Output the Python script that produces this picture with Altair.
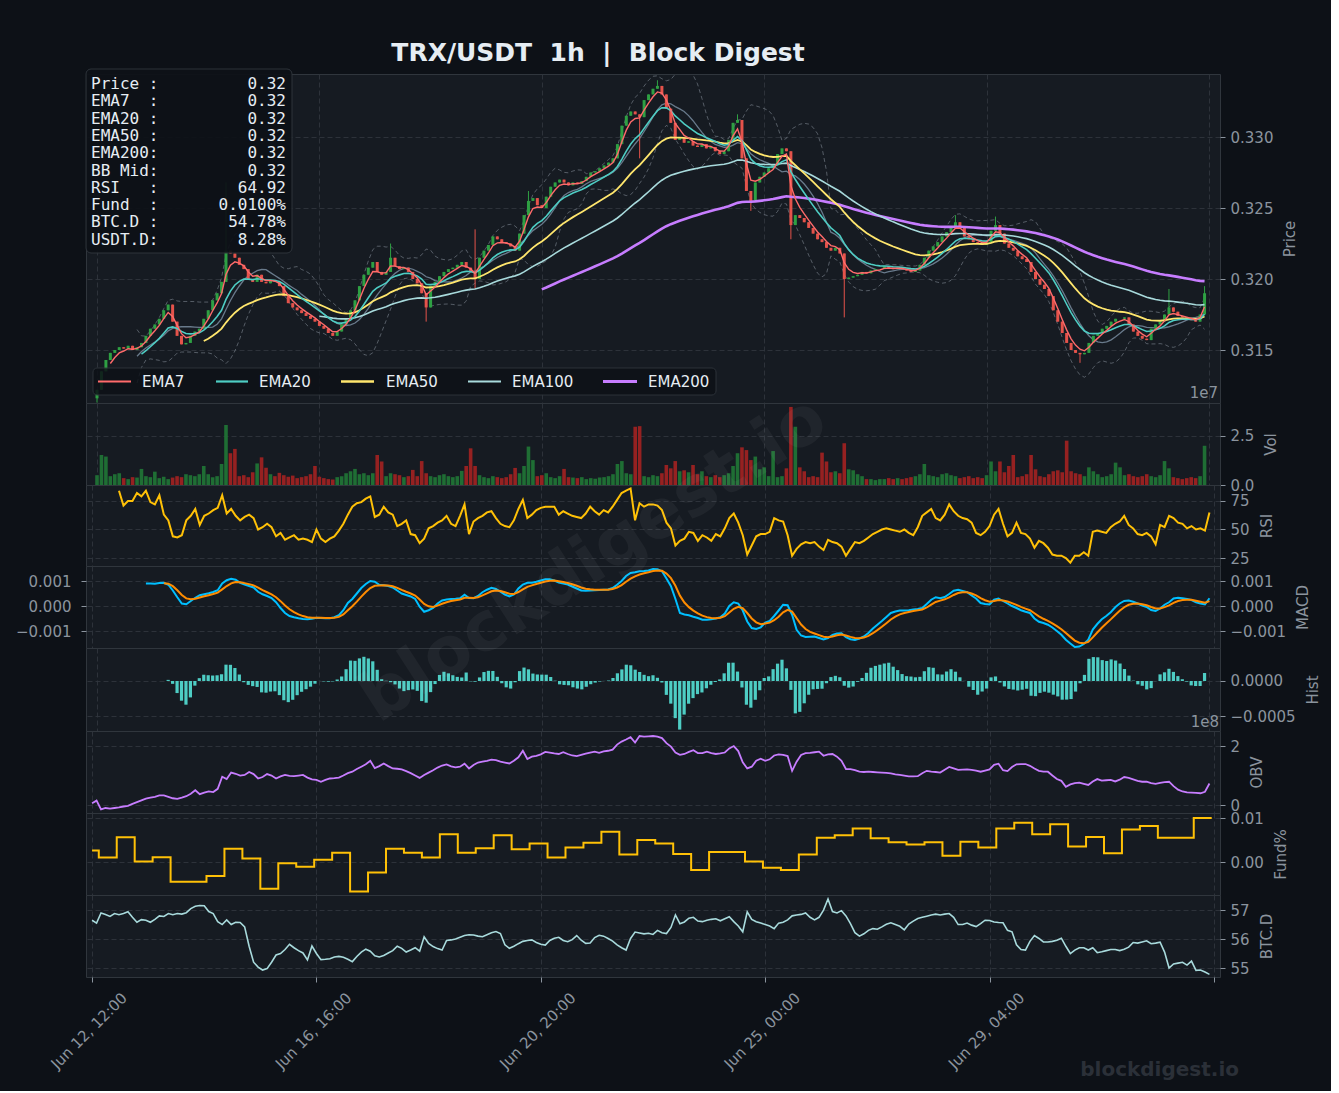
import altair as alt
import numpy as np
import pandas as pd

# ---------------- values (2-hour samples) ----------------
close = [
    0.3122, 0.3135, 0.3143, 0.3148, 0.3150, 0.3152, 0.3151, 0.3153, 0.3150, 0.3152,
    0.3155, 0.3160, 0.3165, 0.3168, 0.3172, 0.3178, 0.3182, 0.3170, 0.3160, 0.3154,
    0.3155, 0.3160, 0.3163, 0.3165, 0.3172, 0.3178, 0.3185, 0.3190, 0.3198, 0.3220,
    0.3218, 0.3215, 0.3210, 0.3207, 0.3200, 0.3198, 0.3203, 0.3198, 0.3197, 0.3199,
    0.3198, 0.3195, 0.3188, 0.3183, 0.3180, 0.3178, 0.3176, 0.3174, 0.3172, 0.3170,
    0.3167, 0.3165, 0.3162, 0.3160, 0.3163, 0.3168, 0.3172, 0.3178, 0.3185, 0.3195,
    0.3203, 0.3208, 0.3212, 0.3205, 0.3203, 0.3205, 0.3215, 0.3209, 0.3207, 0.3208,
    0.3205, 0.3200, 0.3197, 0.3190, 0.3180, 0.3195, 0.3198, 0.3202, 0.3205, 0.3207,
    0.3208, 0.3210, 0.3212, 0.3208, 0.3205, 0.3200, 0.3215, 0.3220, 0.3224, 0.3230,
    0.3228, 0.3226, 0.3225, 0.3223, 0.3220, 0.3232, 0.3245, 0.3255, 0.3257, 0.3252,
    0.3250, 0.3258, 0.3265, 0.3268, 0.3270, 0.3268, 0.3266, 0.3268, 0.3267, 0.3269,
    0.3272, 0.3275, 0.3276, 0.3278, 0.3280, 0.3282, 0.3285, 0.3295, 0.3308, 0.3315,
    0.3318, 0.3316, 0.3314, 0.3326, 0.3330, 0.3334, 0.3336, 0.3330, 0.3320, 0.3310,
    0.3298, 0.3300, 0.3296, 0.3297, 0.3294, 0.3293, 0.3295, 0.3292, 0.3293, 0.3290,
    0.3288, 0.3290, 0.3298, 0.3310, 0.3312, 0.3285, 0.3262, 0.3255, 0.3268, 0.3272,
    0.3275, 0.3278, 0.3280, 0.3288, 0.3292, 0.3290, 0.3238, 0.3245, 0.3243, 0.3240,
    0.3236, 0.3232, 0.3228, 0.3226, 0.3222, 0.3220, 0.3222, 0.3218, 0.3200, 0.3201,
    0.3202, 0.3203, 0.3205, 0.3204, 0.3206, 0.3207, 0.3207, 0.3209, 0.3208, 0.3207,
    0.3208, 0.3207, 0.3206, 0.3205, 0.3206, 0.3210, 0.3215, 0.3220, 0.3223, 0.3226,
    0.3230, 0.3233, 0.3237, 0.3240, 0.3236, 0.3230, 0.3228, 0.3226, 0.3225, 0.3224,
    0.3226, 0.3234, 0.3238, 0.3232, 0.3225, 0.3222, 0.3220, 0.3216, 0.3214, 0.3212,
    0.3205, 0.3200, 0.3196, 0.3193, 0.3188, 0.3178, 0.3170, 0.3162, 0.3155, 0.3150,
    0.3148, 0.3147, 0.3148, 0.3155, 0.3160, 0.3162, 0.3165, 0.3167, 0.3170, 0.3172,
    0.3172, 0.3173, 0.3168, 0.3163, 0.3160, 0.3158, 0.3157, 0.3165, 0.3168, 0.3170,
    0.3175, 0.3180, 0.3177, 0.3174, 0.3173, 0.3172, 0.3171, 0.3170, 0.3175, 0.3190,
]
first_open = 0.3116
wick_high = {29: 0.3268, 66: 0.3225, 85: 0.3235, 97: 0.3262, 126: 0.3340, 144: 0.3316,
             193: 0.3245, 202: 0.3244, 241: 0.3193, 249: 0.3195}
wick_low = {0: 0.3113, 74: 0.3170, 85: 0.3193, 122: 0.3285, 147: 0.3248, 156: 0.3228,
            168: 0.3173, 221: 0.3141}

vol_1e7 = [
    0.50, 1.53, 1.45, 0.45, 0.55, 0.60, 0.35, 0.30, 0.40, 0.38,
    0.82, 0.45, 0.40, 0.68, 0.35, 0.42, 0.30, 0.38, 0.45, 0.40,
    0.55, 0.50, 0.45, 0.55, 0.97, 0.55, 0.40, 0.45, 1.07, 3.06,
    1.62, 1.84, 0.45, 0.50, 0.40, 0.65, 1.10, 1.41, 0.88, 0.55,
    0.45, 0.62, 0.50, 0.42, 0.48, 0.35, 0.40, 0.45, 0.55, 0.97,
    0.42, 0.35, 0.30, 0.28, 0.40, 0.45, 0.60, 0.70, 0.82, 0.55,
    0.60, 0.50, 0.60, 1.53, 1.20, 0.45, 0.60, 0.55, 0.50, 0.40,
    0.45, 0.77, 0.45, 1.22, 0.60, 0.45, 0.40, 0.50, 0.55, 0.45,
    0.40, 0.45, 0.72, 0.97, 1.87, 0.97, 0.50, 0.40, 0.35, 0.45,
    0.40, 0.35, 0.40, 0.55, 0.87, 0.60, 0.97, 1.96, 1.27, 0.45,
    0.50, 0.60, 0.40, 0.35, 0.45, 0.82, 0.40, 0.38, 0.35, 0.40,
    0.30, 0.35, 0.32, 0.38, 0.40, 0.45, 0.55, 1.07, 1.22, 0.60,
    0.55, 2.97, 3.00, 0.45, 0.40, 0.50, 0.45, 0.60, 1.02, 0.85,
    1.22, 0.70, 0.75, 0.65, 1.02, 0.55, 0.70, 0.45, 0.40, 0.50,
    0.40, 0.50, 0.60, 0.97, 1.62, 1.92, 1.78, 1.27, 1.45, 0.80,
    0.90, 0.45, 1.73, 0.40, 0.45, 0.85, 3.98, 2.97, 0.90, 0.70,
    0.40, 0.45, 0.40, 1.65, 1.20, 0.65, 0.70, 0.60, 2.13, 0.80,
    0.75, 0.55, 0.45, 0.30, 0.30, 0.25, 0.30, 0.30, 0.35, 0.30,
    0.35, 0.30, 0.35, 0.40, 0.45, 0.55, 1.07, 0.50, 0.45, 0.40,
    0.55, 0.60, 0.50, 0.45, 0.35, 0.40, 0.45, 0.35, 0.40, 0.35,
    0.50, 1.20, 0.70, 1.20, 0.65, 0.97, 1.53, 0.40, 0.45, 0.55,
    1.53, 0.80, 0.45, 0.40, 0.55, 0.70, 0.75, 0.65, 2.26, 0.70,
    0.60, 0.55, 0.45, 0.90, 0.70, 0.55, 0.40, 0.45, 0.55, 1.14,
    0.90, 0.50, 0.55, 0.45, 0.40, 0.45, 0.55, 0.45, 0.40, 0.50,
    1.22, 0.85, 0.40, 0.35, 0.30, 0.35, 0.40, 0.35, 0.45, 2.00,
]

rsi = [
    None, None, None, None, None, None, 84, 71, 75, 75,
    82, 79, 84, 74, 72, 80, 63, 58, 44, 43,
    45, 58, 62, 68, 54, 62, 64, 67, 69, 80,
    64, 68, 62, 58, 61, 63, 60, 50, 52, 55,
    52, 44, 47, 41, 43, 45, 41, 42, 41, 39,
    50, 42, 39, 42, 44, 49, 55, 63, 70, 73,
    74, 77, 79, 61, 63, 70, 65, 63, 53, 55,
    58, 46, 45, 38, 42, 51, 53, 56, 58, 62,
    55, 53, 62, 72, 46, 57, 60, 62, 65, 66,
    60, 55, 53, 52, 58, 68, 76, 60, 63, 67,
    69, 70, 70, 70, 63, 66, 64, 62, 61, 60,
    64, 70, 66, 63, 67, 65, 70, 76, 82, 84,
    86, 58, 73, 70, 72, 72, 71, 67, 56, 51,
    36, 40, 42, 48, 47, 40, 45, 43, 40, 46,
    44, 51, 60, 64, 56, 45, 28, 36, 44, 46,
    46, 48, 60, 58, 57, 45, 27, 33, 37, 39,
    38, 39, 35, 32, 41, 39, 38, 35, 27, 33,
    39, 38, 40, 43, 46, 48, 50, 51, 50, 49,
    48, 50, 47, 45, 52, 62, 65, 68, 60, 58,
    63, 72, 66, 62, 60, 59, 56, 47, 45, 48,
    53, 63, 68, 55, 44, 47, 56, 47, 46, 42,
    34, 40, 38, 34, 28, 27, 27, 25, 21, 27,
    27, 30, 27, 48, 49, 48, 47, 52, 55, 57,
    62, 54, 51, 46, 45, 47, 44, 37, 54, 52,
    62, 60, 56, 55, 51, 53, 50, 51, 49, 64.92,
]

macd_milli = [
    None, None, None, None, None, None, None, None, None, None,
    None, None, 0.90, 0.90, 0.89, 0.92, 0.93, 0.85, 0.62, 0.35,
    0.10, 0.07, 0.20, 0.33, 0.43, 0.47, 0.51, 0.56, 0.63, 0.90,
    1.03, 1.09, 1.05, 0.93, 0.86, 0.80, 0.74, 0.57, 0.47, 0.40,
    0.32, 0.15, -0.08, -0.28, -0.40, -0.45, -0.49, -0.52, -0.53, -0.51,
    -0.47, -0.48, -0.49, -0.49, -0.45, -0.37, -0.17, 0.12, 0.28, 0.50,
    0.72, 0.88, 1.00, 0.97, 0.85, 0.83, 0.80, 0.74, 0.62, 0.50,
    0.44, 0.38, 0.28, -0.03, -0.23, -0.17, -0.08, 0.10, 0.22, 0.26,
    0.28, 0.29, 0.31, 0.45, 0.32, 0.31, 0.40, 0.55, 0.65, 0.73,
    0.68, 0.57, 0.46, 0.38, 0.46, 0.70, 0.86, 0.93, 0.93, 0.97,
    1.02, 1.07, 1.07, 1.02, 0.94, 0.90, 0.86, 0.78, 0.70, 0.62,
    0.61, 0.62, 0.63, 0.64, 0.65, 0.66, 0.72, 0.85, 1.00, 1.20,
    1.32, 1.35, 1.39, 1.40, 1.42, 1.48, 1.47, 1.39, 1.10, 0.79,
    0.28, -0.28, -0.34, -0.37, -0.43, -0.48, -0.55, -0.55, -0.53, -0.50,
    -0.45, -0.30, 0.00, 0.15, 0.10, -0.18, -0.62, -0.88, -0.92, -0.86,
    -0.66, -0.60, -0.40, -0.18, 0.05, 0.03, -0.35, -0.95, -1.18, -1.24,
    -1.23, -1.22, -1.28, -1.34, -1.28, -1.16, -1.10, -1.09, -1.25, -1.33,
    -1.36, -1.30, -1.22, -1.08, -0.90, -0.75, -0.60, -0.44, -0.28, -0.22,
    -0.18, -0.18, -0.17, -0.14, -0.12, -0.08, 0.08, 0.25, 0.35, 0.31,
    0.36, 0.48, 0.61, 0.65, 0.60, 0.55, 0.42, 0.30, 0.12, 0.08,
    0.06, 0.25, 0.30, 0.20, 0.10, 0.00, -0.08, -0.17, -0.23, -0.28,
    -0.50, -0.63, -0.68, -0.75, -0.86, -1.00, -1.15, -1.35, -1.50, -1.64,
    -1.62, -1.52, -1.35, -0.94, -0.72, -0.53, -0.40, -0.25, -0.05, 0.10,
    0.20, 0.22, 0.17, 0.10, 0.02, -0.04, -0.16, -0.20, -0.10, 0.05,
    0.15, 0.30, 0.33, 0.31, 0.28, 0.24, 0.15, 0.10, 0.06, 0.31,
]

obv_1e8 = [
    0.06, 0.15, -0.15, -0.10, -0.12, -0.10, -0.08, -0.05, -0.03, 0.04,
    0.10, 0.16, 0.22, 0.25, 0.28, 0.33, 0.33, 0.28, 0.23, 0.21,
    0.25, 0.30, 0.38, 0.50, 0.37, 0.42, 0.46, 0.44, 0.55, 0.96,
    0.88, 1.10, 1.06, 1.00, 1.02, 1.12, 1.05, 0.90, 0.95, 1.05,
    1.00, 0.90, 0.97, 1.02, 0.99, 0.98, 1.00, 1.02, 0.93, 0.87,
    0.85, 0.79, 0.85, 0.90, 0.91, 0.93, 1.00, 1.08, 1.13, 1.22,
    1.30, 1.38, 1.50, 1.25, 1.32, 1.41, 1.32, 1.24, 1.23, 1.21,
    1.15, 1.08, 1.00, 0.92, 1.02, 1.10, 1.18, 1.27, 1.34, 1.38,
    1.31, 1.28, 1.30, 1.40, 1.24, 1.36, 1.44, 1.47, 1.50, 1.54,
    1.52, 1.47, 1.44, 1.41, 1.50, 1.62, 1.84, 1.56, 1.64, 1.67,
    1.72, 1.80, 1.78, 1.75, 1.73, 1.79, 1.73, 1.68, 1.66, 1.70,
    1.74, 1.78, 1.81, 1.77, 1.82, 1.84, 1.88, 2.05, 2.15, 2.22,
    2.30, 2.12, 2.34, 2.32, 2.33, 2.34, 2.32, 2.27, 2.10, 1.98,
    1.78, 1.70, 1.73, 1.80, 1.86, 1.76, 1.76, 1.81, 1.76, 1.73,
    1.75, 1.78, 1.92, 2.00, 1.83, 1.45, 1.24, 1.30, 1.50, 1.57,
    1.50, 1.55, 1.68, 1.72, 1.70, 1.66, 1.16, 1.47, 1.70, 1.76,
    1.77, 1.79, 1.81, 1.67, 1.72, 1.73, 1.64, 1.50, 1.22, 1.22,
    1.18, 1.13, 1.12, 1.13, 1.12, 1.11, 1.10, 1.09, 1.07, 1.04,
    1.02, 1.00, 0.97, 0.97, 0.98, 1.08, 1.16, 1.13, 1.12, 1.10,
    1.20, 1.29, 1.24, 1.19, 1.20, 1.21, 1.19, 1.17, 1.13, 1.17,
    1.21, 1.36, 1.40, 1.18, 1.15, 1.29, 1.38, 1.39, 1.39, 1.33,
    1.24, 1.16, 1.13, 1.13, 1.00, 0.88, 0.82, 0.62, 0.70, 0.74,
    0.76, 0.72, 0.68, 0.80, 0.88, 0.83, 0.84, 0.85, 0.80, 0.86,
    0.95, 0.92, 0.87, 0.82, 0.79, 0.79, 0.74, 0.72, 0.75, 0.78,
    0.79, 0.64, 0.52, 0.46, 0.43, 0.42, 0.41, 0.40, 0.45, 0.73,
]

btc_d = [
    56.65, 56.55, 56.90, 56.85, 56.78, 56.88, 56.84, 56.88, 56.94, 56.75,
    56.58, 56.67, 56.65, 56.58, 56.68, 56.80, 56.78, 56.88, 56.84, 56.88,
    56.86, 56.91, 57.05, 57.13, 57.16, 57.15, 56.95, 56.88, 56.60, 56.50,
    56.66, 56.50, 56.58, 56.57, 56.42, 55.75, 55.20, 55.03, 54.93, 54.98,
    55.20, 55.45, 55.50, 55.64, 55.82, 55.70, 55.60, 55.52, 55.28, 55.76,
    55.50, 55.29, 55.30, 55.32, 55.38, 55.40, 55.37, 55.30, 55.22, 55.40,
    55.55, 55.65, 55.58, 55.42, 55.38, 55.43, 55.52, 55.60, 55.75, 55.68,
    55.55, 55.62, 55.70, 55.58, 56.08, 55.85, 55.74, 55.67, 55.62, 55.95,
    55.97, 56.00, 56.06, 56.12, 56.15, 56.14, 56.10, 56.08, 56.15, 56.22,
    56.26, 56.19, 55.80, 55.68, 55.75, 55.84, 55.92, 55.95, 55.97, 55.88,
    55.82, 55.79, 55.95, 56.03, 56.06, 55.95, 55.91, 55.98, 56.12, 55.96,
    55.85, 55.86, 56.05, 56.13, 56.10, 56.02, 55.93, 55.80, 55.70, 55.62,
    56.02, 56.24, 56.21, 56.18, 56.20, 56.16, 56.30, 56.22, 56.19, 56.40,
    56.83, 56.53, 56.59, 56.72, 56.75, 56.62, 56.60, 56.65, 56.68, 56.70,
    56.63, 56.70, 56.77, 56.60, 56.45, 56.25, 56.94, 56.68, 56.60, 56.55,
    56.50, 56.45, 56.36, 56.55, 56.58, 56.66, 56.80, 56.83, 56.85, 56.90,
    56.75, 56.66, 56.75, 57.00, 57.38, 56.95, 56.90, 56.98, 56.80, 56.53,
    56.22, 56.10, 56.18, 56.30, 56.36, 56.34, 56.42, 56.51, 56.56, 56.50,
    56.44, 56.32, 56.52, 56.62, 56.71, 56.75, 56.79, 56.83, 56.86, 56.83,
    56.86, 56.88, 56.75, 56.50, 56.50, 56.55, 56.48, 56.43, 56.53, 56.65,
    56.64, 56.59, 56.57, 56.56, 56.30, 56.25, 55.80, 55.64, 55.62, 55.92,
    56.12, 56.02, 55.90, 55.90, 55.92, 55.96, 56.03, 55.75, 55.50, 55.62,
    55.70, 55.70, 55.62, 55.70, 55.53, 55.56, 55.60, 55.64, 55.64, 55.60,
    55.65, 55.72, 55.88, 55.86, 55.90, 55.94, 55.84, 55.86, 55.89, 55.55,
    55.00, 55.14, 55.17, 55.20, 55.10, 55.24, 54.92, 54.93, 54.86, 54.78,
]

# funding rate (%), one value per 8-hour funding window
fund_pct = [
    0.0026, 0.0010, 0.0056, 0.0001, 0.0011, -0.0045, -0.0045, -0.0032, 0.0030, 0.0008,
    -0.0061, -0.0003, -0.0011, 0.0005, 0.0021, -0.0067, -0.0024, 0.0030, 0.0021, 0.0010,
    0.0063, 0.0021, 0.0031, 0.0061, 0.0029, 0.0042, 0.0010, 0.0033, 0.0044, 0.0069,
    0.0017, 0.0050, 0.0042, 0.0018, -0.0018, 0.0023, 0.0023, 0.0001, -0.0013, -0.0018,
    0.0017, 0.0055, 0.0061, 0.0076, 0.0054, 0.0045, 0.0040, 0.0045, 0.0014, 0.0046,
    0.0033, 0.0076, 0.0089, 0.0063, 0.0086, 0.0035, 0.0057, 0.0020, 0.0074, 0.0082,
    0.0055, 0.0055, 0.0100, 0.0100,
]
fund_hours = [0] + list(range(3, 500, 8))

tick_hours = [0, 100, 200, 300, 400, 500]
tick_labels = ["Jun 12, 12:00", "Jun 16, 16:00", "Jun 20, 20:00", "Jun 25, 00:00", "Jun 29, 04:00", ""]

ema_names = ["EMA7", "EMA20", "EMA50", "EMA100", "EMA200"]
ema_periods = [7, 20, 50, 100, 200]
ema_colors = ["#ff6b6b", "#4ecdc4", "#ffe66d", "#a8dadc", "#c77dff"]
ema_widths = [1.4, 1.6, 1.8, 1.6, 2.6]

info_labels = ["Price :", "EMA7  :", "EMA20 :", "EMA50 :", "EMA200:", "BB Mid:",
               "RSI   :", "Fund  :", "BTC.D :", "USDT.D:"]
info_values = ["0.32", "0.32", "0.32", "0.32", "0.32", "0.32", "64.92", "0.0100%",
               "54.78%", "8.28%"]

# ---------------- derived table ----------------
n = len(close)
for nm, arr in [("vol", vol_1e7), ("rsi", rsi), ("macd", macd_milli), ("obv", obv_1e8), ("btc", btc_d)]:
    if len(arr) != n:
        raise ValueError(f"{nm} has {len(arr)} values, expected {n}")

hours = [2 * i for i in range(n)]
opens = [first_open] + close[:-1]
highs = [max(o, c) for o, c in zip(opens, close)]
lows = [min(o, c) for o, c in zip(opens, close)]
for k, v in wick_high.items():
    highs[k] = max(highs[k], v)
for k, v in wick_low.items():
    lows[k] = min(lows[k], v)

s = pd.Series(close, dtype=float)
df = pd.DataFrame({
    "hour": hours, "open": opens, "close": close, "high": highs, "low": lows,
    "vol": vol_1e7, "rsi": pd.Series(rsi, dtype=float), "obv": obv_1e8, "btc": btc_d,
})
df["up"] = df["close"] >= df["open"]
for name, p in zip(ema_names, ema_periods):
    e = s.ewm(span=p / 2.0, adjust=False).mean()
    e.iloc[: int(round((p - 1) / 2.0))] = np.nan
    df[name] = e
mid = s.rolling(10).mean()
sd = s.rolling(10).std(ddof=0)
df["bb_mid"] = mid
df["bb_up"] = mid + 2 * sd
df["bb_lo"] = mid - 2 * sd
m = pd.Series([np.nan if v is None else v * 1e-3 for v in macd_milli], dtype=float)
sig = m.ewm(span=4.5, adjust=False).mean()
sig.iloc[:16] = np.nan
df["macd"] = m
df["signal"] = sig
df["hist"] = m - sig

fund_df = pd.DataFrame({"hour": fund_hours, "fund": fund_pct})
one = pd.DataFrame({"k": [0]})

# ---------------- styling ----------------
BG = "#0d1117"
PANEL = "#161b22"
GRID = "#30363d"
TXT = "#8b949e"
WHITE = "#e6edf3"
GREEN = "#2ea043"
RED = "#e5534b"
VGREEN = "#1f6e34"
VRED = "#962121"
NB = "\u00a0"

W = 1134
XDOM = [-2.7, 502.7]
xscale = alt.Scale(domain=XDOM, nice=False, zero=False)
ax_plain = alt.Axis(values=tick_hours, labels=False, ticks=False, domain=False, grid=True, title=None)
lab_arr = "[" + ",".join("'" + t + "'" for t in tick_labels) + "]"
ax_bottom = alt.Axis(values=tick_hours, grid=True, ticks=True, domain=False, title=None,
                     labelExpr=lab_arr + "[round(datum.value / 100)]",
                     labelAngle=315, labelAlign="right", labelBaseline="middle",
                     labelOffset=32, labelPadding=13, labelFlush=False, labelOverlap=False)


def X(bottom=False):
    return alt.X("hour:Q", scale=xscale, axis=ax_bottom if bottom else ax_plain)


def yaxis(values, fmt, title, orient="right", grid=True):
    return alt.Axis(orient=orient, values=values, format=fmt, title=title, grid=grid,
                    titleAngle=270, titleBaseline="top", titlePadding=10)


def cond(g, r):
    return alt.condition("datum.up", alt.value(g), alt.value(r))


base = alt.Chart(df)

# ---------------- price panel ----------------
p_scale = alt.Scale(domain=[0.31127, 0.33444], nice=False, zero=False)
p_axis = yaxis([0.315, 0.320, 0.325, 0.330], ".3f", "Price")


def PY(f):
    return alt.Y(f + ":Q", scale=p_scale, axis=p_axis)


price_layers = [
    base.mark_line(strokeDash=[4, 3], strokeWidth=1, color="#8b949e", opacity=0.55, clip=True).encode(x=X(), y=PY("bb_up")),
    base.mark_line(strokeDash=[4, 3], strokeWidth=1, color="#8b949e", opacity=0.55, clip=True).encode(x=X(), y=PY("bb_lo")),
    base.mark_line(strokeWidth=1.3, color="#6e7f91", opacity=0.95, clip=True).encode(x=X(), y=PY("bb_mid")),
    base.mark_rule(strokeWidth=1, clip=True).encode(x=X(), y=PY("low"), y2="high:Q", color=cond(GREEN, RED)),
    base.mark_bar(size=3, clip=True).encode(x=X(), y=PY("open"), y2="close:Q", color=cond(GREEN, RED)),
]
for name, col, w in reversed(list(zip(ema_names, ema_colors, ema_widths))):
    price_layers.append(base.mark_line(color=col, strokeWidth=w, clip=True).encode(x=X(), y=PY(name)))

# info box
price_layers.append(alt.Chart(one).mark_rect(fill=BG, opacity=0.93, stroke=GRID, strokeWidth=1, cornerRadius=5).encode(
    x=alt.value(0), x2=alt.value(206), y=alt.value(-5), y2=alt.value(179)))
price_layers.append(alt.Chart(one).mark_text(align="left", baseline="alphabetic", font="DejaVu Sans Mono", fontSize=16,
                                             color=WHITE, lineBreak="\n", lineHeight=17.3).encode(
    x=alt.value(5), y=alt.value(15), text=alt.value("\n".join(l.replace(" ", NB) for l in info_labels))))
price_layers.append(alt.Chart(one).mark_text(align="right", baseline="alphabetic", font="DejaVu Sans Mono", fontSize=16,
                                             color=WHITE, lineBreak="\n", lineHeight=17.3).encode(
    x=alt.value(200), y=alt.value(15), text=alt.value("\n".join(info_values))))

# legend
price_layers.append(alt.Chart(one).mark_rect(fill=BG, opacity=0.85, stroke=GRID, strokeWidth=1, cornerRadius=4).encode(
    x=alt.value(7), x2=alt.value(630), y=alt.value(294), y2=alt.value(321)))
leg_sw = [(12, 45), (130, 162), (255, 288), (382, 415), (517, 551)]
leg_tx = [56, 173, 300, 426, 562]
for name, col, w, (a, b), t in zip(ema_names, ema_colors, ema_widths, leg_sw, leg_tx):
    price_layers.append(alt.Chart(one).mark_rule(color=col, strokeWidth=w + 0.6).encode(
        x=alt.value(a), x2=alt.value(b), y=alt.value(307.5)))
    price_layers.append(alt.Chart(one).mark_text(align="left", baseline="middle", fontSize=15, color=WHITE).encode(
        x=alt.value(t), y=alt.value(307.5), text=alt.value(name)))

# title and offset text
price_layers.append(alt.Chart(one).mark_text(align="center", baseline="alphabetic", fontSize=25, fontWeight="bold",
                                             color=WHITE).encode(
    x=alt.value(512), y=alt.value(-13),
    text=alt.value("TRX/USDT" + NB * 2 + "1h" + NB * 2 + "|" + NB * 2 + "Block Digest")))
price_layers.append(alt.Chart(one).mark_text(align="right", baseline="alphabetic", fontSize=15, color=TXT).encode(
    x=alt.value(1132), y=alt.value(324), text=alt.value("1e7")))

price = alt.layer(*price_layers).properties(width=W, height=329)

# ---------------- volume ----------------
vol = base.mark_bar(size=3.6, clip=True).encode(
    x=X(),
    y=alt.Y("vol:Q", scale=alt.Scale(domain=[0, 4.18], nice=False), axis=yaxis([0, 2.5], ".1f", "Vol")),
    y2=alt.datum(0),
    color=cond(VGREEN, VRED),
).properties(width=W, height=82)

# ---------------- RSI ----------------
rsi_ch = base.mark_line(color="#ffc107", strokeWidth=2, clip=True).encode(
    x=X(),
    y=alt.Y("rsi:Q", scale=alt.Scale(domain=[18, 89], nice=False, zero=False), axis=yaxis([25, 50, 75], "d", "RSI")),
).properties(width=W, height=81)

# ---------------- MACD ----------------
m_scale = alt.Scale(domain=[-0.00168, 0.0016], nice=False, zero=False)
m_axis = yaxis([-0.001, 0.0, 0.001], ".3f", "MACD")
macd_right = alt.layer(
    base.mark_line(color="#00bfff", strokeWidth=2, clip=True).encode(x=X(), y=alt.Y("macd:Q", scale=m_scale, axis=m_axis)),
    base.mark_line(color="#ff8c00", strokeWidth=2, clip=True).encode(x=X(), y=alt.Y("signal:Q", scale=m_scale, axis=m_axis)),
)
macd_left = base.mark_line(opacity=0, clip=True).encode(
    x=X(),
    y=alt.Y("macd:Q", scale=m_scale, axis=alt.Axis(orient="left", values=[-0.001, 0.0, 0.001], format=".3f",
                                                   title=None, grid=False, labelPadding=10)),
)
macd_ch = alt.layer(macd_right, macd_left).resolve_scale(y="independent").properties(width=W, height=82)

# ---------------- Histogram ----------------
hist_ch = alt.layer(
    base.mark_bar(size=3.2, color="#4ecdc4", clip=True).encode(
        x=X(),
        y=alt.Y("hist:Q", scale=alt.Scale(domain=[-0.000714, 0.000471], nice=False, zero=False),
                axis=yaxis([-0.0005, 0.0], ".4f", "Hist")),
        y2=alt.datum(0),
    ),
    alt.Chart(one).mark_text(align="right", baseline="alphabetic", fontSize=15, color=TXT).encode(
        x=alt.value(1133), y=alt.value(79), text=alt.value("1e8")),
).properties(width=W, height=83)

# ---------------- OBV ----------------
obv_ch = base.mark_line(color="#c77dff", strokeWidth=1.8, clip=True).encode(
    x=X(),
    y=alt.Y("obv:Q", scale=alt.Scale(domain=[-0.27, 2.51], nice=False, zero=False), axis=yaxis([0, 2], "d", "OBV")),
).properties(width=W, height=82)

# ---------------- Funding ----------------
fund_ch = alt.Chart(fund_df).mark_line(color="#ffc107", strokeWidth=2, interpolate="step-after", clip=True).encode(
    x=X(),
    y=alt.Y("fund:Q", scale=alt.Scale(domain=[-0.0075, 0.01114], nice=False, zero=False),
            axis=yaxis([0.0, 0.01], ".2f", "Fund%")),
).properties(width=W, height=82)

# ---------------- BTC dominance (+ watermarks) ----------------
btc_ch = alt.layer(
    base.mark_line(color="#a8dadc", strokeWidth=1.6, clip=True).encode(
        x=X(bottom=True),
        y=alt.Y("btc:Q", scale=alt.Scale(domain=[54.69, 57.52], nice=False, zero=False),
                axis=yaxis([55, 56, 57], "d", "BTC.D")),
    ),
    alt.Chart(one).mark_text(align="center", baseline="middle", fontSize=68, fontWeight="bold", angle=327,
                             color="#ffffff", opacity=0.045).encode(
        x=alt.value(508), y=alt.value(-335), text=alt.value("blockdigest.io")),
    alt.Chart(one).mark_text(align="right", baseline="alphabetic", fontSize=20, fontWeight="bold",
                             color="#2b3038").encode(
        x=alt.value(1153), y=alt.value(181), text=alt.value("blockdigest.io")),
).properties(width=W, height=82)

chart = alt.vconcat(price, vol, rsi_ch, macd_ch, hist_ch, obv_ch, fund_ch, btc_ch, spacing=0, bounds="flush").properties(
    padding={"left": 14, "top": 40, "right": 10, "bottom": 10},
).configure(
    background=BG, font="DejaVu Sans",
).configure_view(
    fill=PANEL, stroke=GRID, strokeWidth=1,
).configure_axis(
    labelColor=TXT, titleColor=TXT, labelFontSize=15, titleFontSize=15, titleFontWeight="normal",
    labelFont="DejaVu Sans", titleFont="DejaVu Sans", gridColor=GRID, gridDash=[5, 3], gridWidth=0.9,
    tickColor=TXT, tickSize=5, labelPadding=5, domain=False,
)

chart.save("out.html", embed_options={"renderer": "svg", "actions": False})
